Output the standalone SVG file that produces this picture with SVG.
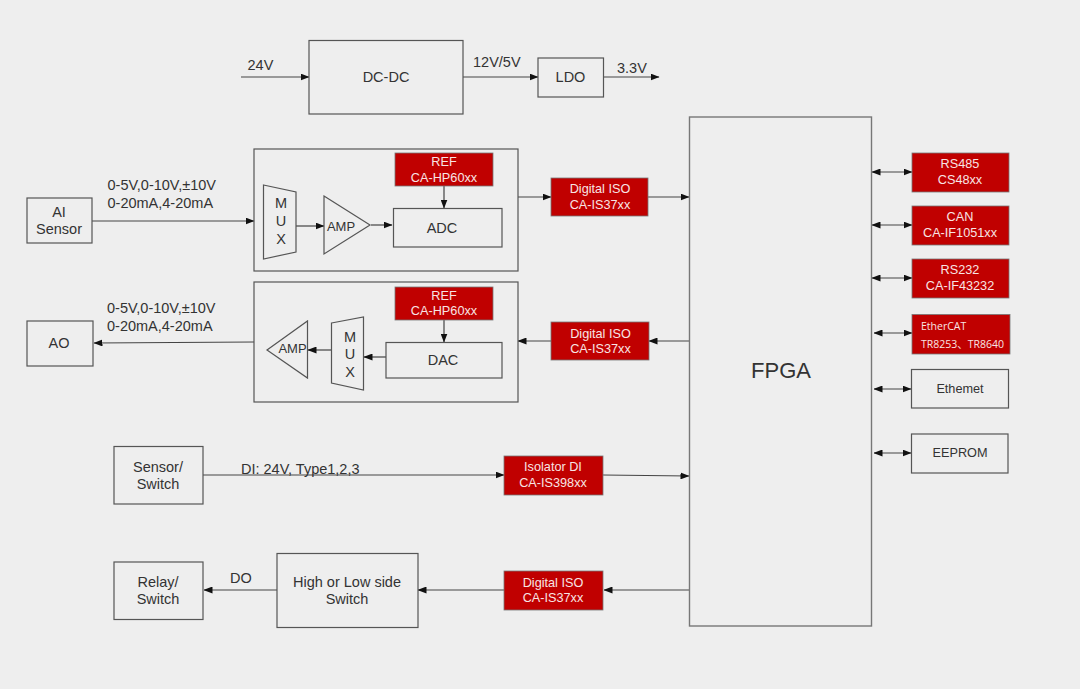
<svg xmlns="http://www.w3.org/2000/svg" width="1080" height="689" viewBox="0 0 1080 689">
<defs>
<marker id="a" markerWidth="9" markerHeight="7" refX="8.5" refY="3.5" orient="auto-start-reverse" markerUnits="userSpaceOnUse"><path d="M0 0L9 3.5L0 7Z" fill="#111"/></marker>
</defs>
<style>
.b{fill:#eeeeee;stroke:#555;stroke-width:1.2}
.r{fill:#c00000;stroke:#777;stroke-width:.8}
text{font-family:"Liberation Sans",Arial,sans-serif;font-size:14.5px;fill:#333;text-anchor:middle}
.w{fill:#f8e4e4;font-size:12.7px}
.e{fill:#f8e4e4;font-size:10.5px;text-anchor:start;font-family:"Open Sans","Noto Sans CJK SC",sans-serif}
.l{text-anchor:start}
.s{font-size:13px}
.c line{stroke:#444;stroke-width:1.2;fill:none;marker-end:url(#a)}
.c .d{marker-start:url(#a)}
</style>
<rect width="1080" height="689" fill="#eeeeee"/>
<g class="c" id="connectors">
<line x1="241" y1="77" x2="309" y2="77"/>
<line x1="463" y1="77" x2="538" y2="77"/>
<line x1="603" y1="77" x2="659" y2="77"/>
<line x1="92" y1="221" x2="254" y2="221"/>
<line x1="296" y1="226" x2="324" y2="226"/>
<line x1="371" y1="225" x2="392" y2="225"/>
<line x1="444" y1="186" x2="444" y2="208"/>
<line x1="518" y1="197" x2="551" y2="197"/>
<line x1="648" y1="197" x2="689" y2="197"/>
<line x1="689" y1="341" x2="649" y2="341"/>
<line x1="551" y1="341" x2="518" y2="341"/>
<line x1="444" y1="320" x2="444" y2="342"/>
<line x1="386" y1="357" x2="364" y2="357"/>
<line x1="332" y1="350" x2="308" y2="350"/>
<line x1="254" y1="342" x2="94" y2="343"/>
<line x1="203" y1="475" x2="504" y2="475"/>
<line x1="603" y1="475" x2="689" y2="476"/>
<line x1="689" y1="590" x2="604" y2="590"/>
<line x1="504" y1="590" x2="418" y2="590"/>
<line x1="277" y1="590" x2="204" y2="590"/>
<line class="d" x1="872" y1="172" x2="912" y2="172"/>
<line class="d" x1="872" y1="225" x2="912" y2="225"/>
<line class="d" x1="872" y1="278" x2="912" y2="278"/>
<line class="d" x1="874" y1="333" x2="912" y2="333"/>
<line class="d" x1="874" y1="389" x2="911" y2="389"/>
<line class="d" x1="874" y1="453" x2="911" y2="453"/>
</g>
<g id="dcdc"><rect class="b" x="309" y="40.500" width="154" height="73.500"/><text x="386" y="82">DC-DC</text></g>
<g id="ldo"><rect class="b" x="538" y="58" width="65.500" height="39"/><text x="570.500" y="82">LDO</text></g>
<g id="ai-block"><rect class="b" x="254" y="149" width="264" height="122" style="fill:none"/></g>
<g id="ao-block"><rect class="b" x="254" y="282" width="264" height="120" style="fill:none"/></g>
<g id="ai"><rect class="b" x="27" y="198" width="65" height="45"/><text x="59" y="217">AI</text><text x="59" y="234">Sensor</text></g>
<g id="ao"><rect class="b" x="27" y="321" width="66" height="45"/><text x="59" y="348">AO</text></g>
<g id="mux1"><path class="b" d="M263.500 185L296 192V252L263.500 259Z"/><text x="281" y="208">M</text><text x="281" y="226">U</text><text x="281" y="244">X</text></g>
<g id="amp1"><path class="b" d="M324 196L370 225L324 254Z"/><text class="s" x="341" y="231">AMP</text></g>
<g id="adc"><rect class="b" x="393.500" y="208.500" width="108.500" height="38.500"/><text x="442" y="233">ADC</text></g>
<g id="ref1"><rect class="r" x="395" y="153" width="98" height="33"/><text class="w" x="444" y="166">REF</text><text class="w" x="444" y="182">CA-HP60xx</text></g>
<g id="ref2"><rect class="r" x="395" y="287" width="98" height="33"/><text class="w" x="444" y="300">REF</text><text class="w" x="444" y="315">CA-HP60xx</text></g>
<g id="dac"><rect class="b" x="386" y="342.500" width="116" height="35.500"/><text x="443" y="365">DAC</text></g>
<g id="mux2"><path class="b" d="M331.500 323L363.500 317V390L331.500 383Z"/><text x="350" y="342">M</text><text x="350" y="359">U</text><text x="350" y="377">X</text></g>
<g id="amp2"><path class="b" d="M267 350L307.500 321V378Z"/><text class="s" x="292.500" y="353">AMP</text></g>
<g id="iso1"><rect class="r" x="551" y="178" width="97" height="38"/><text class="w" x="600" y="193">Digital ISO</text><text class="w" x="600" y="209">CA-IS37xx</text></g>
<g id="iso2"><rect class="r" x="551" y="322" width="98" height="38"/><text class="w" x="600.500" y="338">Digital ISO</text><text class="w" x="600.500" y="353">CA-IS37xx</text></g>
<g id="isodi"><rect class="r" x="504" y="456" width="99" height="39"/><text class="w" x="553" y="471">Isolator DI</text><text class="w" x="553" y="487">CA-IS398xx</text></g>
<g id="iso3"><rect class="r" x="504" y="571" width="99" height="39"/><text class="w" x="553" y="587">Digital ISO</text><text class="w" x="553" y="602">CA-IS37xx</text></g>
<g id="fpga"><rect class="b" x="689.500" y="117" width="182" height="509" style="stroke:#777;stroke-width:1.4"/><text x="781" y="378" style="font-size:22px">FPGA</text></g>
<g id="sensor"><rect class="b" x="114" y="446.500" width="89" height="57.500"/><text x="158" y="472">Sensor/</text><text x="158" y="489">Switch</text></g>
<g id="relay"><rect class="b" x="114" y="562" width="89" height="57.500"/><text x="158" y="587">Relay/</text><text x="158" y="604">Switch</text></g>
<g id="hl"><rect class="b" x="277" y="553.500" width="141" height="74"/><text x="347" y="587">High or Low side</text><text x="347" y="604">Switch</text></g>
<g id="rs485"><rect class="r" x="912" y="153" width="97" height="39"/><text class="w" x="960" y="168">RS485</text><text class="w" x="960" y="184">CS48xx</text></g>
<g id="can"><rect class="r" x="912" y="206" width="97" height="39"/><text class="w" x="960" y="221">CAN</text><text class="w" x="960" y="237">CA-IF1051xx</text></g>
<g id="rs232"><rect class="r" x="912" y="259" width="97" height="39"/><text class="w" x="960" y="274">RS232</text><text class="w" x="960" y="290">CA-IF43232</text></g>
<g id="ethercat"><rect class="r" x="912" y="314.500" width="98" height="39.500"/><text class="e" x="921" y="330">EtherCAT</text><text class="e" x="921" y="348">TR8253、TR8640</text></g>
<g id="ethernet"><rect class="b" x="911.500" y="369.500" width="97" height="38.500"/><text class="w" style="fill:#333" x="960" y="393">Ethemet</text></g>
<g id="eeprom"><rect class="b" x="911.500" y="434" width="96.500" height="39"/><text class="w" style="fill:#333" x="960" y="457">EEPROM</text></g>
<g id="labels">
<text class="l" x="247.500" y="70">24V</text><text class="l" x="473" y="67">12V/5V</text><text class="l" x="617" y="73">3.3V</text>
<text class="l" x="107.500" y="190">0-5V,0-10V,±10V</text><text class="l" x="107.500" y="207.500">0-20mA,4-20mA</text>
<text class="l" x="107" y="313">0-5V,0-10V,±10V</text><text class="l" x="107" y="330.500">0-20mA,4-20mA</text>
<text class="l" x="241" y="474">DI: 24V, Type1,2,3</text><text class="l" x="230" y="583">DO</text>
</g>
</svg>
